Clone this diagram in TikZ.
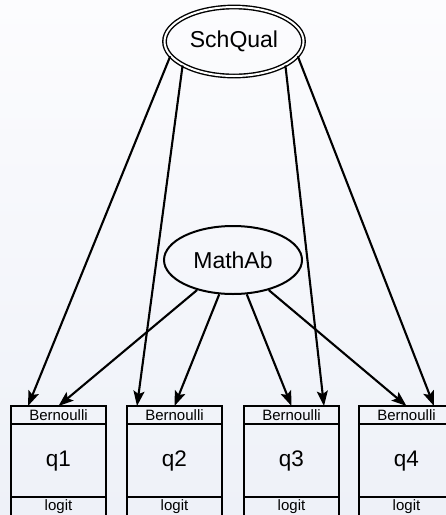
\documentclass[tikz,border=0pt]{standalone}
\usepackage{fontspec}
\setmainfont{Liberation Sans}
\usetikzlibrary{arrows.meta,shapes.geometric}
\definecolor{bgtop}{HTML}{FCFCFE}
\definecolor{bgbot}{HTML}{EEF1F8}
\begin{document}
\begin{tikzpicture}[x=1pt,y=-1pt,
  lat/.style={draw,ellipse,line width=2pt,minimum width=138pt,minimum height=68pt,inner sep=0pt,font=\fontsize{23}{25}\selectfont},
  dbl/.style={lat,double=white,double distance=2pt,line width=1.4pt,minimum width=139pt,minimum height=69pt},
  arr/.style={line width=2.1pt,-{Stealth[length=15pt,width=11pt,inset=3pt]}},
  boxline/.style={line width=2.8pt},
  small/.style={font=\fontsize{15}{16}\selectfont,inner sep=0pt},
  big/.style={font=\fontsize{22.5}{25}\selectfont,inner sep=0pt}]
\useasboundingbox (0,0) rectangle (446,515);
\shade[top color=bgtop,bottom color=bgbot] (0,0) rectangle (446,515);
\clip (0,0) rectangle (446,515);

\node[dbl] (SQ) at (234,41.5) {SchQual};
\node[lat] (MA) at (233,260) {MathAb};

\foreach \i/\x in {1/11,2/127,3/244,4/359}{
  \draw[boxline] (\x,522) -- (\x,406) -- (\x+95,406) -- (\x+95,522);
  \draw[boxline] (\x,424) -- (\x+95,424);
  \draw[boxline] (\x,497) -- (\x+95,497);
  \node[small] (b\i) at (\x+47.5,415.5) {Bernoulli};
  \node[big] (q\i) at (\x+47.5,461) {q\i};
  \node[small] (l\i) at (\x+47.5,507) {logit};
  \coordinate (m\i) at (\x+47.5,406);
}
\coordinate (s1) at (28,406);
\coordinate (s2) at (137,406);
\coordinate (s3) at (324,406);
\coordinate (s4) at (434,406);

\draw[arr] (SQ.193) -- (s1);
\draw[arr] (SQ.205) -- (s2);
\draw[arr] (SQ.335) -- (s3);
\draw[arr] (SQ.347) -- (s4);
\foreach \i in {1,2,3,4}{
  \draw[arr] (MA) -- (m\i);
}
\end{tikzpicture}
\end{document}
